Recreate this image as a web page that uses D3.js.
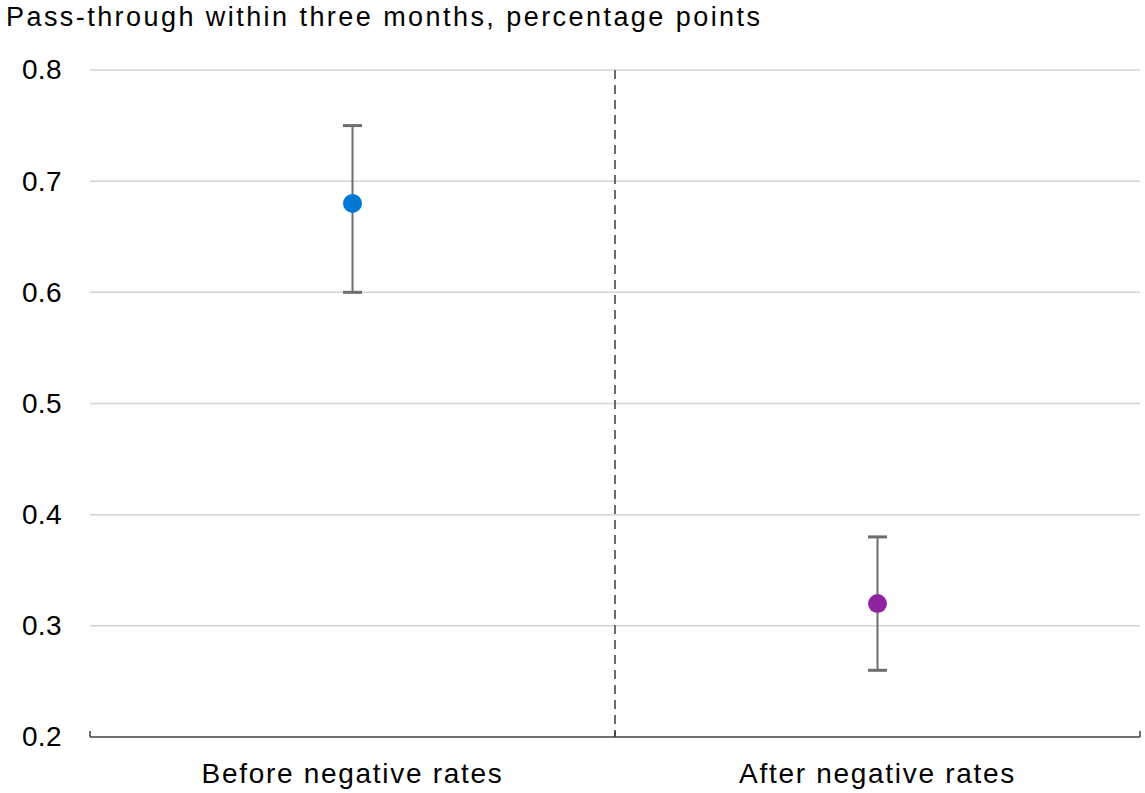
<!DOCTYPE html>
<html><head><meta charset="utf-8">
<script src="https://cdn.jsdelivr.net/npm/d3@7"></script>
<style>body{margin:0;background:#fff}svg{display:block}text{font-family:"Liberation Sans",Arial,sans-serif;fill:#000}</style>
</head><body><svg id="c" width="1145" height="793"></svg>
<script>
const categories = ["Before negative rates", "After negative rates"];
const estimates = [0.68, 0.32];
const lower = [0.60, 0.26];
const upper = [0.75, 0.38];
const colors = ["#0078d4", "#8e24a0"];
const yTicks = [0.2, 0.3, 0.4, 0.5, 0.6, 0.7, 0.8];
const title = "Pass-through within three months, percentage points";

const svg = d3.select("#c");
const L = 90, R = 1140, T = 70, B = 737;
const x = d3.scaleBand().domain(categories).range([L, R]);
const y = d3.scaleLinear().domain([0.2, 0.8]).range([B, T]);
const FF = "Liberation Sans, Arial, sans-serif";

svg.append("text").attr("x", 6).attr("y", 26).attr("font-size", 27)
  .attr("textLength", 754).attr("lengthAdjust", "spacing").text(title);

const yAxis = d3.axisLeft(y).tickValues(yTicks).tickFormat(d3.format(".1f")).tickSize(0).tickPadding(28);
const gy = svg.append("g").attr("transform", `translate(${L},0)`).call(yAxis);
gy.select(".domain").remove();
gy.selectAll("text").attr("font-size", 28).attr("fill", "#000").style("letter-spacing", "0.4px").style("font-family", FF);

svg.append("g").selectAll("line").data(yTicks.filter(d => d > 0.2)).join("line")
  .attr("x1", L).attr("x2", R).attr("y1", d => y(d)).attr("y2", d => y(d))
  .attr("stroke", "#d3d3d3").attr("stroke-width", 1.5);

// divider
svg.append("line").attr("x1", x(categories[1])).attr("x2", x(categories[1])).attr("y1", T).attr("y2", B)
  .attr("stroke", "#6b6b6b").attr("stroke-width", 2).attr("stroke-dasharray", "9,6");

// x axis
const xAxis = d3.axisBottom(x).tickSize(0).tickPadding(0);
const gx = svg.append("g").attr("transform", `translate(0,${B})`).call(xAxis);
gx.select(".domain").remove();
gx.selectAll("text").attr("font-size", 28).attr("fill", "#000").attr("dy", null).attr("y", 46)
  .style("letter-spacing", "1.7px").style("font-family", FF);
svg.append("line").attr("x1", L).attr("x2", R).attr("y1", B).attr("y2", B).attr("stroke", "#404040").attr("stroke-width", 1.5);
[L, x(categories[1]), R].forEach(v => {
  svg.append("line").attr("x1", v).attr("x2", v).attr("y1", B - 6).attr("y2", B).attr("stroke", "#404040").attr("stroke-width", 1.5);
});

const cx = d => x(d) + x.bandwidth() / 2;
const g = svg.append("g");
categories.forEach((c, i) => {
  g.append("line").attr("x1", cx(c)).attr("x2", cx(c)).attr("y1", y(upper[i])).attr("y2", y(lower[i]))
    .attr("stroke", "#6d6d6d").attr("stroke-width", 2);
  [upper[i], lower[i]].forEach(v => {
    g.append("line").attr("x1", cx(c) - 9.5).attr("x2", cx(c) + 9.5).attr("y1", y(v)).attr("y2", y(v))
      .attr("stroke", "#6d6d6d").attr("stroke-width", 3);
  });
  g.append("circle").attr("cx", cx(c)).attr("cy", y(estimates[i])).attr("r", 9.5).attr("fill", colors[i]);
});
</script></body></html>
